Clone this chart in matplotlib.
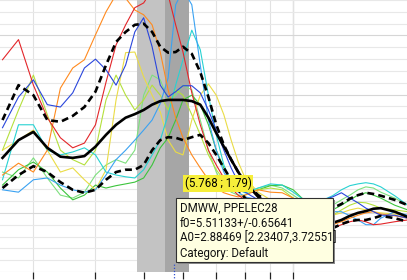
import matplotlib
matplotlib.use("Agg")
import matplotlib.pyplot as plt
from matplotlib.patches import Rectangle
from matplotlib.ticker import NullFormatter, NullLocator, FixedLocator, MultipleLocator

# frequency bins (Hz, log axis) shared by all spectra
freqs = [2.6, 2.8, 3.0, 3.2, 3.4, 3.6, 3.8, 4.0, 4.2, 4.4, 4.6, 4.8, 5.0, 5.2,
         5.4, 5.6, 5.8, 6.0, 6.25, 6.5, 6.75, 7.0, 7.25, 7.5, 7.75, 8.0, 8.5,
         9.0, 9.5, 10, 10.5, 11, 11.5, 12, 12.5, 13, 13.5, 14, 14.5, 15, 16, 17]

# single-subject spectra
red = [3.59, 3.93, 3.16, 2.61, 2.27, 2.10, 2.18, 2.49, 3.21, 3.84, 4.18, 4.47, 4.55, 4.77,
       4.94, 4.69, 4.18, 3.72, 3.03, 2.49, 2.06, 1.81, 1.59, 1.42, 1.30, 1.22, 1.10,
       1.02, 0.96, 0.91, 0.85, 0.80, 0.74, 0.74, 0.80, 0.85, 0.88, 0.85, 0.80, 0.81, 0.85, 0.88]
orange = [1.64, 1.84, 1.69, 2.06, 3.11, 3.45, 3.59, 4.01, 4.40, 4.69, 4.63, 4.43, 4.35, 4.18,
          3.72, 3.08, 2.61, 2.27, 1.98, 1.76, 1.56, 1.42, 1.34, 1.30, 1.27, 1.30, 1.39,
          1.35, 1.34, 1.25, 0.96, 0.85, 0.80, 0.80, 0.85, 0.91, 0.96, 1.00, 1.02, 0.98, 0.95, 0.91]
yellow = [2.06, 2.23, 2.40, 2.06, 1.69, 1.76, 1.56, 1.39, 1.73, 2.91, 3.71, 3.72, 3.30, 2.99,
          2.71, 2.23, 2.03, 1.98, 2.57, 2.99, 3.18, 2.99, 2.66, 2.23, 1.86, 1.59, 1.35,
          1.22, 1.12, 1.05, 0.96, 0.95, 0.95, 0.96, 1.00, 1.05, 1.08, 1.05, 1.02, 1.00, 0.98, 0.95]
lime = [2.06, 2.74, 3.33, 2.66, 2.06, 1.90, 1.81, 2.06, 2.91, 3.33, 2.99, 2.74, 2.91, 3.16,
        2.99, 2.74, 3.08, 2.99, 2.66, 2.32, 1.98, 1.73, 1.56, 1.46, 1.39, 1.35, 1.39,
        1.42, 1.39, 1.25, 1.08, 0.96, 0.91, 0.96, 1.05, 1.13, 1.18, 1.17, 1.13, 1.08, 1.05, 1.02]
green = [1.47, 1.73, 1.86, 1.69, 1.42, 1.22, 1.30, 1.47, 1.42, 1.46, 1.49, 1.52, 1.59, 1.81,
         2.10, 2.27, 2.57, 2.91, 2.99, 2.83, 2.49, 2.06, 1.76, 1.56, 1.42, 1.35, 1.39,
         1.46, 1.47, 1.39, 1.22, 1.08, 1.02, 1.05, 1.13, 1.22, 1.30, 1.34, 1.30, 1.25, 1.13, 1.05]
light_green = [1.69, 1.59, 1.93, 1.59, 1.30, 1.25, 1.35, 1.64, 1.81, 1.90, 1.84, 2.06, 2.99, 3.33,
               3.25, 2.91, 2.99, 3.16, 3.08, 2.57, 2.06, 1.69, 1.47, 1.35, 1.30, 1.30, 1.42,
               1.47, 1.42, 1.30, 1.18, 1.12, 1.08, 1.13, 1.22, 1.30, 1.39, 1.44, 1.42, 1.35, 1.25, 1.13]
cyan = [1.56, 2.49, 2.49, 2.06, 1.98, 2.03, 2.10, 1.98, 1.69, 1.64, 1.61, 1.59, 1.73, 1.98,
        2.23, 2.66, 3.16, 3.59, 4.09, 3.76, 2.99, 2.32, 1.81, 1.52, 1.39, 1.34, 1.42,
        1.49, 1.47, 1.35, 1.22, 1.18, 1.22, 1.29, 1.39, 1.46, 1.49, 1.51, 1.49, 1.44, 1.29, 1.13]
light_blue = [1.39, 1.35, 1.56, 1.59, 1.47, 1.39, 1.35, 1.39, 1.64, 1.90, 2.06, 2.23, 2.40, 2.57,
              2.85, 3.28, 4.52, 4.77, 4.52, 3.50, 2.57, 2.06, 1.69, 1.47, 1.35, 1.27, 1.22,
              1.18, 1.13, 1.05, 1.00, 1.00, 1.02, 1.02, 1.02, 0.95, 0.88, 0.80, 0.80, 0.91, 1.02, 0.96]
blue = [2.44, 2.96, 3.25, 2.83, 2.79, 3.03, 3.45, 3.60, 3.42, 3.16, 3.50, 4.06, 4.30, 3.81,
        3.16, 2.96, 3.05, 3.15, 3.15, 3.03, 2.74, 2.40, 2.06, 1.76, 1.52, 1.35, 1.22,
        1.13, 1.08, 1.02, 1.05, 1.13, 1.22, 1.27, 1.34, 1.25, 1.17, 1.08, 1.02, 0.96, 0.96, 0.91]

# group mean and mean +/- sd
mean = [1.93, 2.23, 2.37, 2.10, 1.95, 1.93, 1.96, 2.12, 2.32, 2.49, 2.61, 2.67, 2.74, 2.83,
        2.89, 2.91, 2.91, 2.91, 2.89, 2.83, 2.61, 2.35, 2.12, 1.90, 1.69, 1.52, 1.27,
        1.13, 1.02, 0.95, 0.88, 0.85, 0.85, 0.83, 0.88, 0.95, 1.00, 1.03, 1.07, 1.08, 1.02, 0.93]
upper = [2.57, 3.16, 2.99, 2.57, 2.54, 2.64, 2.79, 3.05, 3.50, 3.89, 4.06, 4.18, 4.20, 4.06,
         3.81, 3.71, 3.72, 3.81, 3.69, 3.38, 2.96, 2.49, 2.15, 1.90, 1.69, 1.52, 1.30,
         1.17, 1.10, 1.05, 0.96, 1.00, 1.05, 1.08, 1.15, 1.24, 1.30, 1.34, 1.32, 1.29, 1.22, 1.13]
lower = [1.42, 1.64, 1.79, 1.69, 1.52, 1.39, 1.34, 1.39, 1.56, 1.69, 1.73, 1.73, 1.81, 2.06,
         2.23, 2.28, 2.27, 2.23, 2.28, 2.32, 2.18, 1.98, 1.76, 1.56, 1.39, 1.25, 1.08,
         0.95, 0.85, 0.78, 0.71, 0.68, 0.68, 0.74, 0.81, 0.86, 0.88, 0.88, 0.91, 0.95, 0.91, 0.85]

# fitted peak (from the tooltip) and cursor readout
f0, f0_sd = 5.51133, 0.65641
cursor_x, cursor_y = 5.768, 1.79
tooltip_lines = ["DMWW, PPELEC28",
                 "f0=5.51133+/-0.65641",
                 "A0=2.88469 [2.23407,3.72551]",
                 "Category: Default"]

subjects = [
    (light_green, "#7ee07e"), (green, "#3cc43c"), (lime, "#b4e03c"),
    (yellow, "#eadc46"), (cyan, "#28d2d2"), (light_blue, "#3aa2f2"),
    (orange, "#ff8a1e"), (red, "#e3262a"), (blue, "#2a46dc"),
]

W, H = 407, 280
fig = plt.figure(figsize=(W / 100, H / 100), dpi=100)
ax = fig.add_axes([0, 8 / H, 1, 272 / H])
ax.set_xscale("log")
ax.set_xlim(2.57, 16.94)
ax.set_ylim(0, 4.60)

# grid
ax.yaxis.set_major_locator(MultipleLocator(1.0))
ax.yaxis.set_minor_locator(MultipleLocator(0.2))
ax.xaxis.set_major_locator(FixedLocator([3, 4, 5, 6, 7, 8, 9, 10]))
ax.xaxis.set_minor_locator(NullLocator())
ax.xaxis.set_major_formatter(NullFormatter())
ax.yaxis.set_major_formatter(NullFormatter())
ax.grid(which="minor", axis="y", color="#e8e8e8", lw=0.8)
ax.grid(which="major", axis="y", color="#d6d6d6", lw=0.8)
ax.grid(which="major", axis="x", color="#e2e2e2", lw=0.8)
ax.axvline(10, color="#cfcfcf", lw=0.9, zorder=0.5)
ax.set_axisbelow(True)
ax.tick_params(axis="y", which="both", length=0)
ax.tick_params(axis="x", which="major", direction="out", length=5, width=0.9, color="#222222")
for s in ax.spines.values():
    s.set_visible(False)

# f0 +/- sd band
ax.axvspan(f0 - f0_sd, f0, color="#c3c3c3", lw=0, zorder=1)
ax.axvspan(f0, f0 + f0_sd, color="#a6a6a6", lw=0, zorder=1)

for vals, col in subjects:
    ax.plot(freqs, vals, color=col, lw=0.8, zorder=2)

ax.plot(freqs, mean, color="black", lw=1.9, zorder=3)
ax.plot(freqs, upper, color="black", lw=1.9, ls=(0, (2.6, 1.6)), zorder=3)
ax.plot(freqs, lower, color="black", lw=1.9, ls=(0, (2.6, 1.6)), zorder=3)

# cursor marker below the plot
ax.plot([cursor_x, cursor_x], [-0.16, 0.16], color="#3050d0", lw=0.9, ls=(0, (1, 1.5)),
        clip_on=False, zorder=6)

# cursor readout label
fig.text(218 / W, 1 - 183.5 / H, f"({cursor_x} ; {cursor_y})", ha="center", va="center",
         fontsize=8.3, family="Roboto",
         bbox=dict(boxstyle="square,pad=0.12", fc="#f6ee3a", ec="none"))

# tooltip
bx0, by0, bx1, by1 = 176, 198, 333, 262
fig.add_artist(Rectangle(((bx0 + 2) / W, 1 - (by1 + 2) / H), (bx1 - bx0) / W, (by1 - by0) / H,
                         transform=fig.transFigure, fc="#8a8a8a", ec="none", zorder=7))
fig.add_artist(Rectangle((bx0 / W, 1 - by1 / H), (bx1 - bx0) / W, (by1 - by0) / H,
                         transform=fig.transFigure, fc="#ffffe1", ec="#303030", lw=0.8, zorder=8))
for i, line in enumerate(tooltip_lines):
    fig.text(180 / W, 1 - (208 + 15 * i) / H, line, ha="left", va="center",
             fontsize=8.3, family="Roboto", color="#111111", zorder=9)

fig.savefig("out.png", dpi=100)
